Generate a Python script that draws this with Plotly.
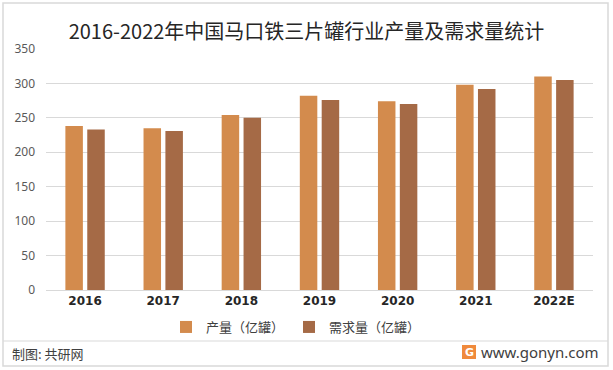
import plotly.graph_objects as go

categories = ["2016", "2017", "2018", "2019", "2020", "2021", "2022E"]
production = [238, 235, 254, 282, 274, 298, 310]
demand = [233, 231, 250, 276, 270, 292, 305]
y_ticks = [0, 50, 100, 150, 200, 250, 300, 350]

W, H = 613, 370
L, R, T, B = 46, 20, 49, 80
ph = H - T - B
pw = W - L - R

def py(y):  # pixel y -> paper y
    return (H - B - y) / ph

def px(x):
    return (x - L) / pw

fig = go.Figure()
fig.add_trace(go.Bar(x=categories, y=production, name="产量（亿罐）",
                     marker=dict(color="#D38B4D", line=dict(width=0))))
fig.add_trace(go.Bar(x=categories, y=demand, name="需求量（亿罐）",
                     marker=dict(color="#A56A46", line=dict(width=0))))

font_cjk = "Microsoft YaHei, Noto Sans CJK SC, sans-serif"

fig.update_layout(
    width=W, height=H,
    margin=dict(l=L, r=R, t=T, b=B),
    paper_bgcolor="white", plot_bgcolor="white",
    barmode="group", bargap=0.44, bargroupgap=0.2,
    font=dict(family=font_cjk, color="#595959"),
    showlegend=True,
    legend=dict(orientation="h", x=px(296), xanchor="center", y=py(327), yanchor="middle",
                font=dict(size=13, color="#404040", family=font_cjk),
                itemwidth=30, tracegroupgap=0, bgcolor="rgba(0,0,0,0)"),
    xaxis=dict(showgrid=False, showline=True, linecolor="#D9D9D9", linewidth=1,
               ticks="", tickfont=dict(size=12, color="#262626", family="Verdana, DejaVu Sans, sans-serif"),
               tickprefix="<b>", ticksuffix="</b>"),
    yaxis=dict(range=[0, 350], tickvals=y_ticks, showgrid=True, gridcolor="#D9D9D9",
               gridwidth=1, zeroline=False, showline=False, ticks="",
               tickfont=dict(size=12, color="#595959", family="Noto Sans, sans-serif"),
               ticklabelstandoff=10),
    title=dict(text="2016-2022年中国马口铁三片罐行业产量及需求量统计", x=0.5, xanchor="center",
               y=1 - 32 / H, yanchor="middle",
               font=dict(size=20, color="#262626", family=font_cjk)),
)

# outer border
fig.add_shape(type="rect", xref="paper", yref="paper",
              x0=px(3), x1=px(608), y0=py(366), y1=py(3),
              line=dict(color="#D9D9D9", width=1.5), fillcolor="rgba(0,0,0,0)", layer="below")
# separator line
fig.add_shape(type="line", xref="paper", yref="paper",
              x0=px(3), x1=px(608), y0=py(341), y1=py(341),
              line=dict(color="#D9D9D9", width=1.2))
# source text
fig.add_annotation(text="制图: 共研网", xref="paper", yref="paper",
                   x=px(10), y=py(353), xanchor="left", yanchor="middle", showarrow=False,
                   font=dict(size=13, color="#404040", family=font_cjk))
fig.add_annotation(text="www.gonyn.com", xref="paper", yref="paper",
                   x=px(601), y=py(352), xanchor="right", yanchor="middle", showarrow=False,
                   font=dict(size=15, color="#404040", family="Noto Sans, sans-serif"))
# logo
fig.add_shape(type="rect", xref="paper", yref="paper",
              x0=px(462), x1=px(476), y0=py(359), y1=py(345),
              line=dict(width=0), fillcolor="#F08A3C")
fig.add_annotation(text="<b>G</b>", xref="paper", yref="paper",
                   x=px(469), y=py(352), xanchor="center", yanchor="middle", showarrow=False,
                   font=dict(size=11, color="white", family="DejaVu Sans, sans-serif"))

fig.write_html("out.html", config={"displayModeBar": False},
               post_script="document.body.style.margin='0';document.body.style.overflow='hidden';")
